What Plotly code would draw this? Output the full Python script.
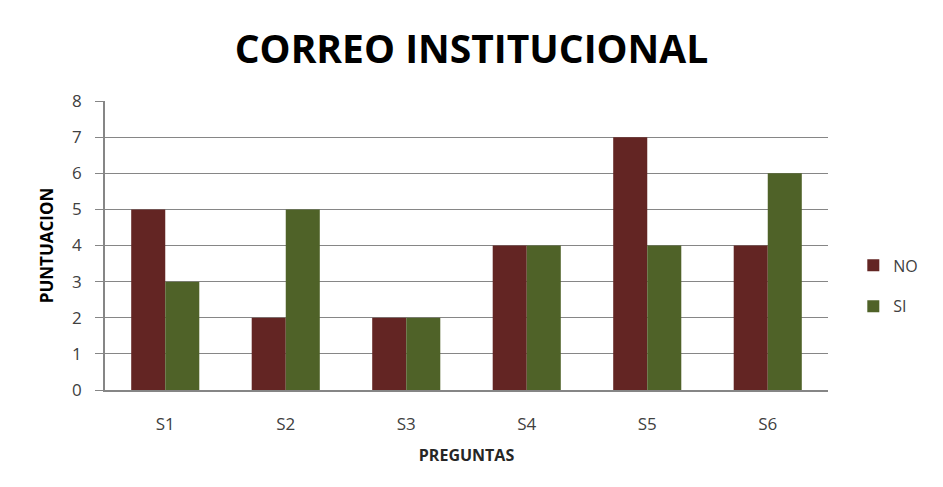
import plotly.graph_objects as go

categories = ["S1", "S2", "S3", "S4", "S5", "S6"]
no_values = [5, 2, 2, 4, 7, 4]
si_values = [3, 5, 2, 4, 4, 6]

font_family = "Open Sans, Lato, sans-serif"

fig = go.Figure()
fig.add_trace(go.Bar(name="NO", x=categories, y=no_values, legendgroup="no",
                     marker=dict(color="#632523", line=dict(width=0))))
fig.add_trace(go.Bar(name="SI", x=categories, y=si_values, legendgroup="si",
                     marker=dict(color="#4F6228", line=dict(width=0))))

fig.update_layout(
    width=943, height=487,
    margin=dict(l=105, r=115, t=101, b=97),
    paper_bgcolor="white", plot_bgcolor="white",
    barmode="group", bargap=0.435, bargroupgap=0,
    font=dict(family=font_family, color="#404040", size=16),
    title=dict(text="<b>CORREO INSTITUCIONAL</b>", x=0.5, xanchor="center",
               y=0.898, yanchor="middle",
               font=dict(family=font_family, size=39, color="#000000")),
    legend=dict(x=1.035, y=0.36, xanchor="left", yanchor="middle",
                font=dict(size=16, color="#404040"), tracegroupgap=17,
                itemsizing="constant", itemwidth=30),
    xaxis=dict(
        title=dict(text="<b>PREGUNTAS</b>", standoff=16,
                   font=dict(size=16, color="#262626")),
        showline=True, linecolor="#868686", linewidth=1.5,
        ticks="", showgrid=False, ticklabelstandoff=18,
        tickfont=dict(size=17),
    ),
    yaxis=dict(
        title=dict(text="<b>PUNTUACION</b>", standoff=14,
                   font=dict(size=17, color="#000000")),
        range=[0, 8], dtick=1,
        showgrid=True, gridcolor="#868686", gridwidth=1,
        showline=True, linecolor="#868686", linewidth=1.5,
        ticks="outside", ticklen=8, tickcolor="#868686",
        ticklabelstandoff=10, tickfont=dict(size=17),
        zeroline=False,
    ),
)

fig.write_html("out.html")
